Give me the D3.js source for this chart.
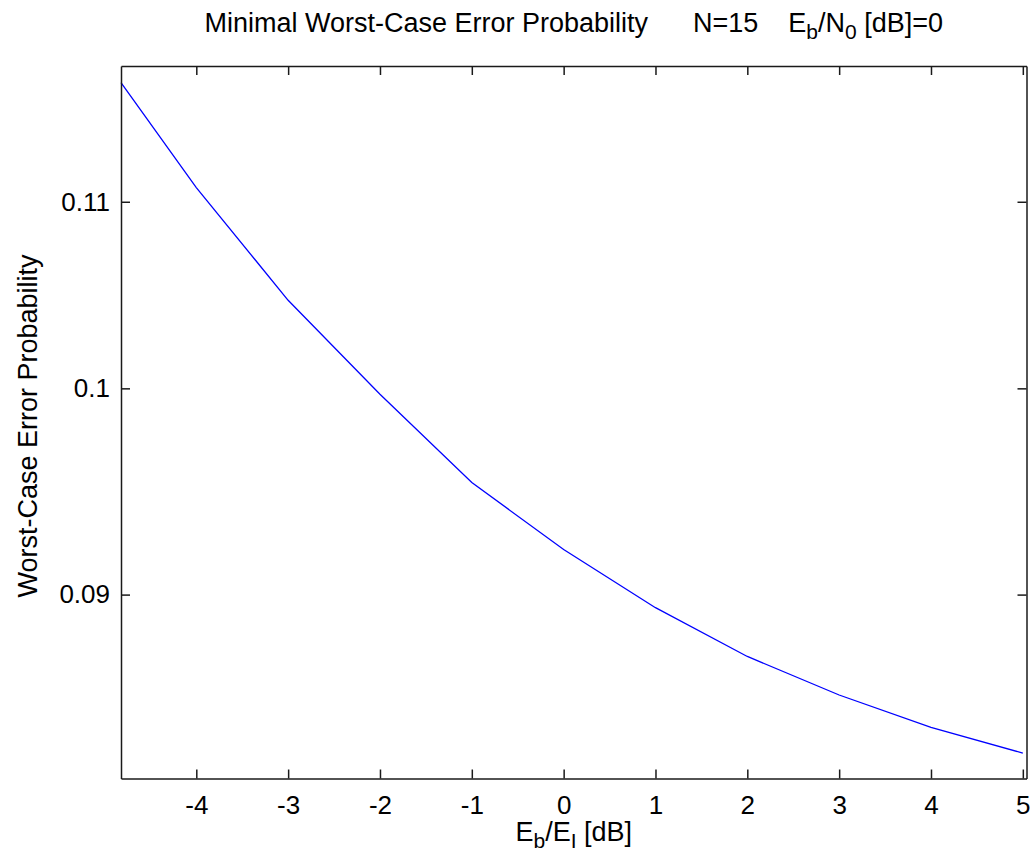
<!DOCTYPE html>
<html>
<head>
<meta charset="utf-8">
<script src="https://cdn.jsdelivr.net/npm/d3@7"></script>
<style>
  html, body { margin: 0; padding: 0; background: #fff; }
  svg text { font-family: "Liberation Sans", Arial, sans-serif; fill: #000; }
</style>
</head>
<body>
<svg id="chart" width="1034" height="866"></svg>
<script>
// Signal-to-interference ratio Eb/EI in dB
const ebEi = [-4.82, -4, -3, -2, -1, 0, 1, 2, 3, 4, 5];
// Minimal worst-case error probability for N=15, Eb/N0 = 0 dB
const worstCaseError = [0.1169, 0.1108, 0.1046, 0.0997, 0.0953, 0.0921,
                        0.0894, 0.0872, 0.0855, 0.0841, 0.0830];
const xTicks = [-4, -3, -2, -1, 0, 1, 2, 3, 4, 5];
const yTicks = [0.09, 0.1, 0.11];
const yTickLabels = ["0.09", "0.1", "0.11"];

const svg = d3.select("#chart");
const box = { left: 121, top: 66, right: 1026.5, bottom: 778.5 };

const x = d3.scaleLinear().domain([-4.82, 5.04]).range([box.left, box.right]);
const y = d3.scaleLog().domain([0.08193, 0.1179]).range([box.bottom, box.top]);

const tickLen = 9;
const tickFont = 26;
const labelFont = 27;
const subFont = 21;

// plot line
const line = d3.line().x((d, i) => x(ebEi[i])).y(d => y(d));
svg.append("path")
  .datum(worstCaseError)
  .attr("d", line)
  .attr("fill", "none")
  .attr("stroke", "#0000ff")
  .attr("stroke-width", 1.3);

// axes: ticks inward on all four sides
const axisBottom = d3.axisBottom(x).tickValues(xTicks).tickSizeInner(-tickLen).tickSizeOuter(0)
  .tickPadding(17).tickFormat(d => String(d));
const axisTop = d3.axisTop(x).tickValues(xTicks).tickSizeInner(-tickLen).tickSizeOuter(0).tickFormat("");
const axisLeft = d3.axisLeft(y).tickValues(yTicks).tickSizeInner(-tickLen).tickSizeOuter(0)
  .tickPadding(11).tickFormat((d, i) => yTickLabels[i]);
const axisRight = d3.axisRight(y).tickValues(yTicks).tickSizeInner(-tickLen).tickSizeOuter(0).tickFormat("");

function style(g) {
  g.selectAll("path.domain").attr("stroke", "#1a1a1a").attr("stroke-width", 1.5);
  g.selectAll(".tick line").attr("stroke", "#1a1a1a").attr("stroke-width", 1.5);
  g.selectAll(".tick text").attr("font-size", tickFont)
    .attr("font-family", "Liberation Sans, Arial, sans-serif").attr("fill", "#000");
}

svg.append("g").attr("transform", `translate(0,${box.bottom})`).call(axisBottom).call(style);
svg.append("g").attr("transform", `translate(0,${box.top})`).call(axisTop).call(style);
svg.append("g").attr("transform", `translate(${box.left},0)`).call(axisLeft).call(style);
svg.append("g").attr("transform", `translate(${box.right},0)`).call(axisRight).call(style);

const cx = (box.left + box.right) / 2;
const nb = n => "\u00a0".repeat(n);

// title
const title = svg.append("text")
  .attr("x", cx).attr("y", 32)
  .attr("text-anchor", "middle")
  .attr("font-size", labelFont);
title.append("tspan").text("Minimal Worst-Case Error Probability" + nb(6) + "N=15" + nb(4) + "E");
title.append("tspan").attr("dy", 7).attr("font-size", subFont).text("b");
title.append("tspan").attr("dy", -7).text("/N");
title.append("tspan").attr("dy", 7).attr("font-size", subFont).text("0");
title.append("tspan").attr("dy", -7).text(" [dB]=0");

// x label
const xl = svg.append("text")
  .attr("x", cx).attr("y", 841)
  .attr("text-anchor", "middle")
  .attr("font-size", labelFont);
xl.append("tspan").text("E");
xl.append("tspan").attr("dy", 7).attr("font-size", subFont).text("b");
xl.append("tspan").attr("dy", -7).text("/E");
xl.append("tspan").attr("dy", 7).attr("font-size", subFont).text("I");
xl.append("tspan").attr("dy", -7).text(" [dB]");

// y label
svg.append("text")
  .attr("transform", `translate(37,426) rotate(-90)`)
  .attr("text-anchor", "middle")
  .attr("font-size", labelFont)
  .text("Worst-Case Error Probability");
</script>
</body>
</html>
